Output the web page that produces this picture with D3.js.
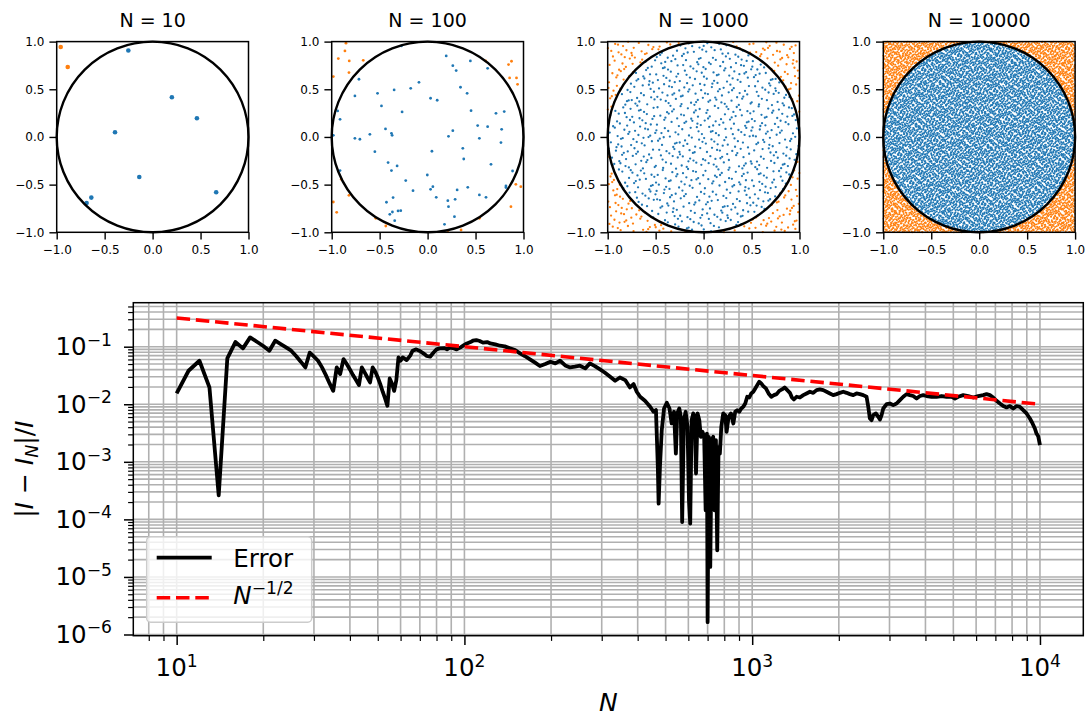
<!DOCTYPE html>
<html><head><meta charset="utf-8">
<script src="https://cdn.jsdelivr.net/npm/d3@7"></script>
<style>
body{margin:0;background:#fff}
text{font-family:"DejaVu Sans",sans-serif;fill:#000}
</style>
</head><body>
<svg id="c" width="1087" height="716"></svg>
<script>
// ---------------- DATA ----------------
const panelTitles = ["N = 10", "N = 100", "N = 1000", "N = 10000"];
const panelN = [10, 100, 1000, 10000];
const scatterTicks = [-1, -0.5, 0, 0.5, 1];

// N = 10 sample
const pts10 = [[-0.958,0.944],[-0.885,0.734],[-0.253,0.906],[0.201,0.416],[0.462,0.196],
  [-0.392,0.049],[-0.139,-0.420],[-0.639,-0.636],[-0.688,-0.692],[0.663,-0.580]];

// N = 100 sample (outside-circle points then inside-circle points)
const pts100 = [[-0.851,0.983],[-0.862,0.902],[-0.931,0.822],[-0.817,0.797],[-0.671,0.804],
  [-0.820,0.675],[-0.983,0.633],[0.606,0.797],[0.844,0.759],[0.875,0.794],[0.855,0.619],
  [0.927,0.619],[0.938,0.552],[0.920,-0.497],[0.972,-0.521],[0.869,-0.731],[-0.900,-0.444],
  [-0.820,-0.612],[-0.983,-0.682],[-0.948,-0.790],[-0.540,-0.853],[-0.436,-0.934],
  [0.211,-0.983],[0.349,-0.976],[0.540,-0.853],
  [-0.273,0.955],[0.194,0.850],[0.263,0.748],[0.298,0.696],[0.446,0.797],[0.626,0.720],
  [-0.716,0.605],[-0.349,0.493],[-0.522,0.458],[-0.090,0.573],[-0.176,0.510],[0.343,0.521],
  [0.412,0.458],[-0.758,0.430],[-0.481,0.325],[-0.938,0.273],[0.031,0.406],[0.100,0.385],
  [-0.266,0.262],[0.453,0.276],[-0.913,0.185],[0.713,0.248],[0.799,0.266],[0.772,0.080],
  [0.522,0.119],[0.626,0.108],[-0.439,0.084],[-0.377,0.038],[-0.370,0.017],[-0.602,0.028],
  [-0.758,-0.014],[-0.706,-0.024],[-0.983,0.017],[0.218,0.007],[0.263,0.066],[0.540,-0.014],
  [0.765,-0.059],[0.367,-0.119],[-0.550,-0.154],[0.045,-0.150],[0.377,-0.231],[-0.412,-0.269],
  [-0.318,-0.304],[-0.377,-0.353],[0.661,-0.287],[0.886,-0.357],[-0.913,-0.353],[-0.003,-0.399],
  [-0.228,-0.458],[0.031,-0.549],[0.055,-0.521],[-0.152,-0.563],[0.419,-0.528],[0.540,-0.608],
  [0.609,-0.633],[0.817,-0.514],[0.817,-0.531],[-0.360,-0.636],[0.090,-0.633],[-0.429,-0.685],
  [0.211,-0.668],[0.287,-0.654],[0.308,-0.556],[0.218,-0.731],[-0.367,-0.787],[-0.308,-0.776],
  [-0.280,-0.773],[-0.394,-0.811],[-0.343,-0.878],[0.176,-0.916],[0.280,-0.836]];

// Error |I - I_N| / I  as [N, value]
const errorSeries = [
 [10,0.0154],[11,0.0382],[12,0.0570],[13,0.0196],[14,0.000262],[15,0.0626],[16,0.1205],[17,0.0935],
 [18,0.1452],[19,0.122],[20,0.1027],[21,0.0852],[22,0.127],[23,0.111],[24,0.0973],[25,0.0852],
 [26,0.0688],[27,0.0549],[28,0.0437],[29,0.0787],[30,0.067],[31,0.057],[32,0.0437],[33,0.0321],
 [34,0.0230],[35,0.0171],[36,0.0437],[37,0.0334],[38,0.0609],[39,0.0499],[40,0.0403],[41,0.0321],
 [42,0.0263],[43,0.0215],[44,0.0437],[45,0.0357],[46,0.0292],[47,0.0239],[48,0.0437],[49,0.0367],
 [50,0.0292],[51,0.0224],[52,0.0165],[53,0.0126],[54,0.0094],[55,0.0281],[56,0.0230],[57,0.0171],
 [58,0.0263],[59,0.0651],[60,0.057],
 [61,0.0652],[63,0.0586],[65,0.0716],[66,0.0852],[68,0.0899],[70,0.0841],[72,0.0766],[74,0.0689],
 [76,0.0670],[78,0.0787],[80,0.0899],[82,0.0935],[85,0.0948],[87,0.0899],[89,0.0961],[92,0.0935],
 [94,0.0899],[97,0.0974],[99,0.104],[102,0.114],[105,0.1205],[107,0.127],[110,0.1305],[113,0.1255],
 [116,0.1175],[120,0.1205],[123,0.114],[128,0.110],[133,0.104],[138,0.1014],[144,0.0935],[150,0.0875],
 [156,0.0766],[162,0.0689],[169,0.0602],[176,0.0527],[183,0.0461],[191,0.0499],[199,0.0548],[207,0.0513],
 [215,0.0570],[224,0.0473],[233,0.0436],[242,0.0449],[252,0.0467],[263,0.0420],[273,0.0513],[284,0.0461],
 [296,0.0403],[308,0.0353],[321,0.0301],[334,0.0256],[347,0.0292],[362,0.0263],[376,0.0196],[387,0.0224],
 [397,0.0165],[408,0.0135],[424,0.0115],[442,0.00903],[454,0.0074],[463,0.00791],[470,0.000817],
 [473,0.000188],[478,0.000817],[485,0.00355],[494,0.00845],[505,0.0106],[516,0.00845],[525,0.00464],
 [535,0.0074],
 [543,0.00139],[549,0.00692],[558,0.00845],[565,0.00605],[571,0.0000901],[579,0.0053],[587,0.0074],
 [596,0.00406],[603,0.000215],[609,0.0000843],[616,0.0053],[624,0.00692],[631,0.00605],[638,0.000625],
 [646,0.00692],[655,0.0053],[663,0.00272],[672,0.00332],[681,0.00272],[689,0.000144],[696,0.0031],
 [700,0.00000164],[707,0.00272],[715,0.0000149],[723,0.00238],[732,0.00272],[740,0.000144],[748,0.00238],
 [756,0.000029],[764,0.00182],[772,0.00139],[781,0.00406],[793,0.00692],[806,0.00647],[815,0.00332],
 [828,0.00605],[844,0.00692],[860,0.00464],[873,0.0074],[887,0.00791],[902,0.0074],[916,0.00845],
 [931,0.00903],[946,0.01033],[961,0.0135],[977,0.0131],[992,0.0154],[1009,0.0165],[1025,0.0188],
 [1041,0.0215],[1058,0.0246],[1075,0.0230],[1093,0.0207],[1116,0.0188],[1140,0.0154],[1165,0.0135],
 [1190,0.0144],[1216,0.015],[1242,0.0171],[1269,0.0181],[1296,0.0196],[1324,0.0176],[1352,0.0158],
 [1374,0.0131],[1396,0.0121],[1427,0.0135],[1465,0.0131],[1505,0.0144],[1545,0.0154],[1587,0.0165],
 [1630,0.0158],[1674,0.0176],
 [1719,0.0181],[1766,0.0176],[1813,0.0165],[1862,0.0154],[1912,0.0144],[1964,0.015],[2017,0.0158],
 [2072,0.0165],[2128,0.0158],[2185,0.015],[2245,0.0144],[2305,0.0154],[2367,0.015],[2432,0.0144],
 [2497,0.0135],[2531,0.00903],[2564,0.00566],[2599,0.0053],[2634,0.00647],[2691,0.00692],[2742,0.00605],
 [2779,0.00543],[2816,0.00647],[2854,0.00845],[2931,0.01004],[3010,0.0103],[3091,0.00966],[3175,0.0103],
 [3261,0.0118],[3349,0.0135],[3439,0.015],[3532,0.0144],[3627,0.0139],[3726,0.0126],[3826,0.0139],
 [3930,0.0144],[4036,0.0139],[4201,0.0135],[4373,0.0135],[4551,0.0139],[4737,0.0135],[4930,0.0135],
 [5064,0.0126],[5200,0.0135],[5413,0.0144],[5633,0.0139],[5864,0.0131],[6102,0.0139],[6351,0.0144],
 [6522,0.015],[6699,0.0144],[6880,0.0131],[7067,0.0115],[7257,0.0103],[7454,0.00929],[7656,0.0088],
 [7864,0.00929],[8074,0.00845],[8291,0.00929],[8516,0.00903],[8746,0.00791],[8982,0.00692],[9226,0.00566],
 [9424,0.00464],[9601,0.00379],[9729,0.0031],[9861,0.00279],[10000,0.00195]];

// Reference N^{-1/2} line (straight in log-log): endpoints
const refN = [10, 10000];
const refVal = [0.3162, 0.01];

const xMajorExp = [1, 2, 3, 4];
const yMajorExp = [-1, -2, -3, -4, -5, -6];
const legendLabels = ["Error", "N^{-1/2}"];

// The individual points of the N = 1000 and N = 10000 samples cannot be read
// from the picture; a fixed deterministic Halton sequence stands in for them.
function halton(i, b) { let f = 1, r = 0; while (i > 0) { f /= b; r += f * (i % b); i = Math.floor(i / b); } return r; }
const densePts = d3.range(1, 10001).map(i => [2 * halton(i + 37, 2) - 1, 2 * halton(i + 37, 3) - 1]);

// ---------------- DRAW ----------------
const BLUE = "#1f77b4", ORANGE = "#ff7f0e";
const svg = d3.select("#c");
svg.append("rect").attr("width", 1087).attr("height", 716).attr("fill", "#fff");

const P = { lefts: [56.7, 331.7, 607.7, 883.3], top: 41.6, w: 191.8, h: 190.7 };
const panelPts = [pts10, pts100, densePts.slice(0, 1000), densePts];
const panelR = [2.3, 1.4, 1.15, 0.95];

panelTitles.forEach((t, i) => {
  const g = svg.append("g").attr("transform", `translate(${P.lefts[i]},${P.top})`);
  const x = d3.scaleLinear().domain([-1, 1]).range([0, P.w]);
  const y = d3.scaleLinear().domain([-1, 1]).range([P.h, 0]);
  const pts = panelPts[i];
  const inside = pts.filter(d => d[0] * d[0] + d[1] * d[1] <= 1);
  const outside = pts.filter(d => d[0] * d[0] + d[1] * d[1] > 1);
  g.append("g").selectAll("circle").data(inside).join("circle")
    .attr("cx", d => x(d[0])).attr("cy", d => y(d[1])).attr("r", panelR[i]).attr("fill", BLUE);
  g.append("g").selectAll("circle").data(outside).join("circle")
    .attr("cx", d => x(d[0])).attr("cy", d => y(d[1])).attr("r", panelR[i]).attr("fill", ORANGE);
  g.append("ellipse").attr("cx", x(0)).attr("cy", y(0)).attr("rx", x(1) - x(0)).attr("ry", y(-1) - y(0))
    .attr("fill", "none").attr("stroke", "#000").attr("stroke-width", 2.4);
  g.append("rect").attr("width", P.w).attr("height", P.h).attr("fill", "none")
    .attr("stroke", "#000").attr("stroke-width", 1.5);
  const fmt = d3.format(".1f");
  const ax = g.append("g").attr("transform", `translate(0,${P.h})`)
    .call(d3.axisBottom(x).tickValues(scatterTicks).tickFormat(fmt).tickSize(7.3).tickPadding(6));
  const ay = g.append("g")
    .call(d3.axisLeft(y).tickValues(scatterTicks).tickFormat(fmt).tickSize(7.3).tickPadding(5));
  [ax, ay].forEach(a => {
    a.select(".domain").remove();
    a.selectAll("line").attr("stroke-width", 1.4);
    a.selectAll("text").attr("font-size", 12).attr("font-family", "DejaVu Sans");
  });
  g.append("text").attr("x", P.w / 2).attr("y", 27.3 - P.top).attr("text-anchor", "middle")
    .attr("font-size", 19).text(t);
});

// ---- bottom log-log plot ----
const B = { left: 133.3, right: 1083.3, top: 302.7, bottom: 635.7 };
const bx = d3.scaleLog().domain([7.069, 14145]).range([B.left, B.right]);
const by = d3.scaleLog().domain([Math.pow(10, -6.021), Math.pow(10, -0.2356)]).range([B.bottom, B.top]);

const inDom = (s, v) => { const d = s.domain(); return v >= d[0] * 0.9999 && v <= d[1] * 1.0001; };
const xAll = [], yAll = [];
for (let e = 0; e <= 4; e++) for (let k = 1; k <= 9; k++) { const v = k * Math.pow(10, e); if (inDom(bx, v)) xAll.push(v); }
for (let e = -7; e <= 0; e++) for (let k = 1; k <= 9; k++) { const v = k * Math.pow(10, e); if (inDom(by, v)) yAll.push(v); }
const isMajor = v => Math.abs(Math.log10(v) - Math.round(Math.log10(v))) < 1e-9;
const xMajor = xMajorExp.map(e => Math.pow(10, e));
const yMajor = yMajorExp.map(e => Math.pow(10, e));
const xMinor = xAll.filter(v => !isMajor(v));
const yMinor = yAll.filter(v => !isMajor(v));

const gb = svg.append("g");
const grid = gb.append("g").attr("stroke", "#b0b0b0").attr("stroke-width", 1.6);
grid.selectAll("line.gx").data(xAll).join("line").attr("class", "gx")
  .attr("x1", d => bx(d)).attr("x2", d => bx(d)).attr("y1", B.top).attr("y2", B.bottom);
grid.selectAll("line.gy").data(yAll).join("line").attr("class", "gy")
  .attr("y1", d => by(d)).attr("y2", d => by(d)).attr("x1", B.left).attr("x2", B.right);

// error line
const line = d3.line().x(d => bx(d[0])).y(d => by(d[1]));
gb.append("path").datum(errorSeries).attr("d", line).attr("fill", "none")
  .attr("stroke", "#000").attr("stroke-width", 3.8).attr("stroke-linejoin", "round").attr("stroke-linecap", "butt");
// reference line
gb.append("path").datum(refN.map((n, i) => [n, refVal[i]])).attr("d", line).attr("fill", "none")
  .attr("stroke", "#ff0000").attr("stroke-width", 3.6).attr("stroke-dasharray", "13.5,5.8");

// frame
gb.append("rect").attr("x", B.left).attr("y", B.top).attr("width", B.right - B.left).attr("height", B.bottom - B.top)
  .attr("fill", "none").attr("stroke", "#000").attr("stroke-width", 1.5);

// ticks
function tickAxis(axis, vals, size, transform) {
  const a = gb.append("g").attr("transform", transform).call(axis.tickValues(vals).tickSize(size).tickFormat(""));
  a.select(".domain").remove();
  a.selectAll("line").attr("stroke-width", size > 6 ? 1.5 : 1.2);
  return a;
}
tickAxis(d3.axisBottom(bx), xMajor, 9.3, `translate(0,${B.bottom})`);
tickAxis(d3.axisBottom(bx), xMinor, 5.2, `translate(0,${B.bottom})`);
tickAxis(d3.axisLeft(by), yMajor, 9.3, `translate(${B.left},0)`);
tickAxis(d3.axisLeft(by), yMinor, 5.2, `translate(${B.left},0)`);

const FS = 24.5;
function powLabel(sel, exp) {
  sel.append("tspan").text("10");
  sel.append("tspan").attr("font-size", FS * 0.7).attr("dy", -9.5).text(exp < 0 ? "\u2212" + (-exp) : String(exp));
}
xMajorExp.forEach(e => {
  const t = gb.append("text").attr("x", bx(Math.pow(10, e))).attr("y", 676).attr("text-anchor", "middle").attr("font-size", FS);
  powLabel(t, e);
});
yMajorExp.forEach(e => {
  const t = gb.append("text").attr("x", 112).attr("y", by(Math.pow(10, e)) + 8.5).attr("text-anchor", "end").attr("font-size", FS);
  powLabel(t, e);
});

// axis labels
gb.append("text").attr("x", (B.left + B.right) / 2).attr("y", 711).attr("text-anchor", "middle")
  .attr("font-size", 25).attr("font-style", "italic").text("N");
const yl = gb.append("text").attr("transform", `translate(32.5,${(B.top + B.bottom) / 2}) rotate(-90)`)
  .attr("text-anchor", "middle").attr("font-size", 25);
yl.append("tspan").text("|");
yl.append("tspan").attr("font-style", "italic").text("I");
yl.append("tspan").text(" \u2212 ");
yl.append("tspan").attr("font-style", "italic").text("I");
yl.append("tspan").attr("font-style", "italic").attr("font-size", 17.5).attr("dy", 5).text("N");
yl.append("tspan").attr("dy", -5).text("|/");
yl.append("tspan").attr("font-style", "italic").text("I");

// legend
const L = { x: 146.7, y: 536.7, w: 165, h: 85.5 };
const lg = gb.append("g");
lg.append("rect").attr("x", L.x).attr("y", L.y).attr("width", L.w).attr("height", L.h).attr("rx", 4)
  .attr("fill", "#fff").attr("fill-opacity", 0.8).attr("stroke", "#cccccc").attr("stroke-width", 1.5);
lg.append("line").attr("x1", 156.7).attr("x2", 211.7).attr("y1", 557.7).attr("y2", 557.7)
  .attr("stroke", "#000").attr("stroke-width", 3.8);
lg.append("line").attr("x1", 156.7).attr("x2", 211.7).attr("y1", 597.7).attr("y2", 597.7)
  .attr("stroke", "#ff0000").attr("stroke-width", 3.6).attr("stroke-dasharray", "13.5,5.8");
lg.append("text").attr("x", 233.3).attr("y", 566.7).attr("font-size", FS).text(legendLabels[0]);
const l2 = lg.append("text").attr("x", 233.3).attr("y", 604.3).attr("font-size", FS);
l2.append("tspan").attr("font-style", "italic").text("N");
l2.append("tspan").attr("font-size", FS * 0.7).attr("dy", -10).text("\u22121/2");
</script>
</body></html>
